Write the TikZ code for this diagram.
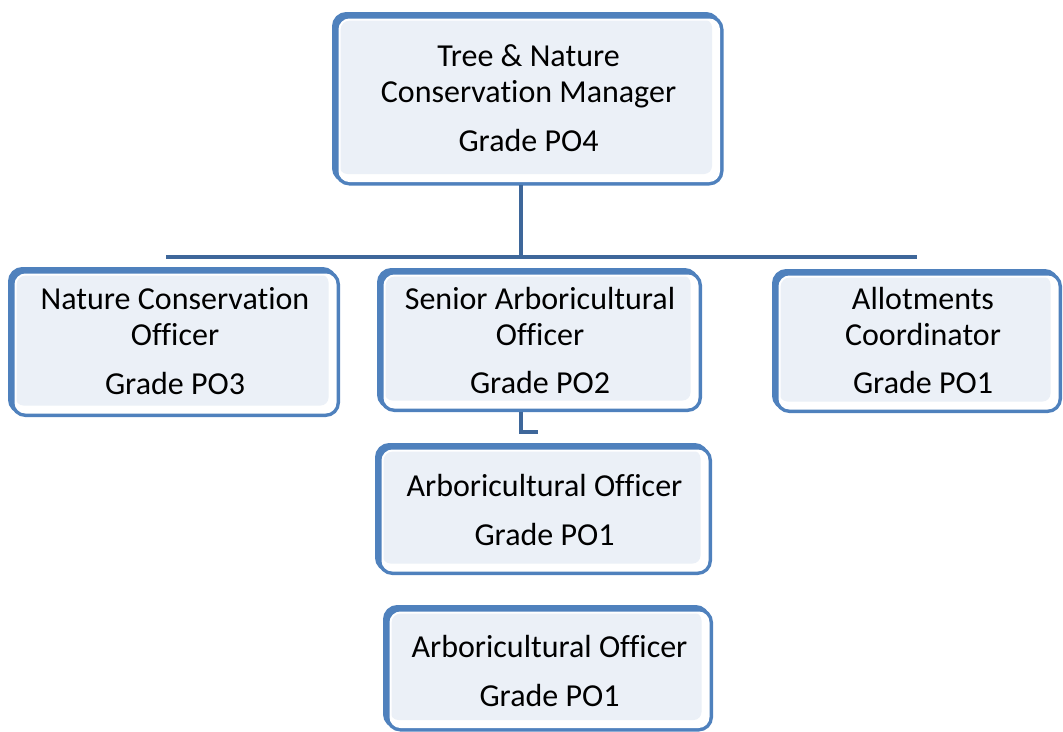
\documentclass[tikz,border=0pt]{standalone}
\usepackage{fontspec}
\setmainfont{Carlito}[Ligatures=NoCommon]
\usetikzlibrary{shadows}
\definecolor{boxblue}{HTML}{4F81BD}
\definecolor{boxfill}{HTML}{EBF0F7}
\definecolor{linkblue}{HTML}{3E679A}
\tikzset{
  orgbox/.style={rectangle, rounded corners=10pt, outer sep=0pt, inner sep=0pt,
    general shadow={fill=boxblue, draw=boxblue, line width=9pt, shadow xshift=-3pt, shadow yshift=3pt},
    preaction={draw=boxblue, line width=9pt},
    fill=white, draw=white, line width=2pt,
    path picture={\fill[boxfill, rounded corners=8pt] (path picture bounding box.north west) rectangle ([xshift=-7pt,yshift=7pt]path picture bounding box.south east);}},
  txt/.style={anchor=base, inner sep=0pt, font=\fontsize{32}{38}\selectfont},
  link/.style={draw=linkblue, line width=4pt}
}
\begin{document}
\begin{tikzpicture}[x=1pt, y=-1pt]
\useasboundingbox (0,0) rectangle (1063,731);
% boxes
\node[orgbox, minimum width=379.5pt, minimum height=161.5pt] (top) at (529.25,100.25) {};
\node[orgbox, minimum width=320pt, minimum height=138pt] (nco) at (175.5,343.5) {};
\node[orgbox, minimum width=313pt, minimum height=132pt] (sao) at (541,341.5) {};
\node[orgbox, minimum width=278pt, minimum height=132pt] (alc) at (918.5,342.5) {};
\node[orgbox, minimum width=325pt, minimum height=120pt] (ao1) at (545,510.5) {};
\node[orgbox, minimum width=318pt, minimum height=114.5pt] (ao2) at (549.5,669.75) {};
% texts
\node[txt] (topa) at (528.5,66) {Tree \& Nature};
\node[txt] (topb) at (528.5,102) {Conservation Manager};
\node[txt] (topc) at (528.5,151) {Grade PO4};
\node[txt] (ncoa) at (175,309) {Nature Conservation};
\node[txt] (ncob) at (175,345) {Officer};
\node[txt] (ncoc) at (175,394) {Grade PO3};
\node[txt] (saoa) at (540,309) {Senior Arboricultural};
\node[txt] (saob) at (540,345) {Officer};
\node[txt] (saoc) at (540,393) {Grade PO2};
\node[txt] (alca) at (923,309) {Allotments};
\node[txt] (alcb) at (923,345) {Coordinator};
\node[txt] (alcc) at (923,393) {Grade PO1};
\node[txt] (ao1a) at (544.5,496) {Arboricultural Officer};
\node[txt] (ao1b) at (544.5,545) {Grade PO1};
\node[txt] (ao2a) at (549.5,657) {Arboricultural Officer};
\node[txt] (ao2b) at (549.5,706) {Grade PO1};
% connectors
\coordinate (hl) at (166,257);
\coordinate (hm) at (521,257);
\coordinate (hr) at (917,257);
\coordinate (k) at (538,432);
\draw[link] ([yshift=-4pt]top.south -| hm) -- (hm);
\draw[link] (hl) -- (hr);
\draw[link] ([yshift=-4pt]sao.south -| hm) |- (k);
\end{tikzpicture}
\end{document}
